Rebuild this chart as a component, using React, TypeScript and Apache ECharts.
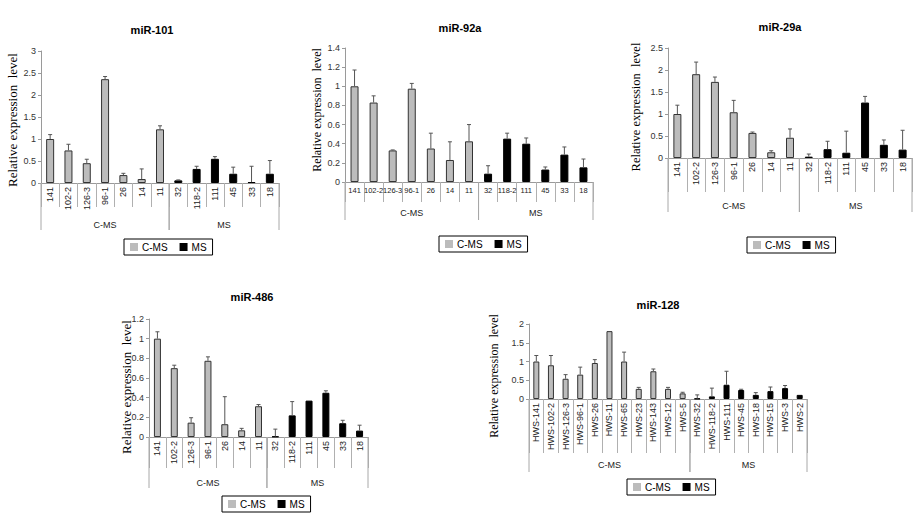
import React, { useEffect, useRef } from 'react';
import * as echarts from 'echarts';

const SANS = '"Liberation Sans", Arial, sans-serif';
const SERIF = '"Liberation Serif", "Times New Roman", serif';

// ---------- data ----------
const groupNames = ['C-MS', 'MS'];

const mir101Cats = ['141', '102-2', '126-3', '96-1', '26', '14', '11', '32', '118-2', '111', '45', '33', '18'];
const mir101CMS = [1.0, 0.74, 0.45, 2.36, 0.18, 0.09, 1.22];
const mir101CMSErr = [0.1, 0.14, 0.09, 0.06, 0.04, 0.23, 0.08];
const mir101MS = [0.06, 0.32, 0.55, 0.21, 0.02, 0.21];
const mir101MSErr = [0.01, 0.06, 0.05, 0.15, 0.36, 0.3];

const mir92aCats = ['141', '102-2', '126-3', '96-1', '26', '14', '11', '32', '118-2', '111', '45', '33', '18'];
const mir92aCMS = [1.0, 0.83, 0.33, 0.975, 0.35, 0.23, 0.425];
const mir92aCMSErr = [0.17, 0.07, 0.005, 0.055, 0.16, 0.19, 0.175];
const mir92aMS = [0.087, 0.453, 0.4, 0.13, 0.286, 0.153];
const mir92aMSErr = [0.083, 0.057, 0.06, 0.027, 0.08, 0.087];

const mir29aCats = ['141', '102-2', '126-3', '96-1', '26', '14', '11', '32', '118-2', '111', '45', '33', '18'];
const mir29aCMS = [1.0, 1.905, 1.73, 1.04, 0.57, 0.13, 0.46];
const mir29aCMSErr = [0.2, 0.275, 0.11, 0.27, 0.02, 0.035, 0.2];
const mir29aMS = [0.03, 0.2, 0.12, 1.26, 0.3, 0.19];
const mir29aMSErr = [0.06, 0.18, 0.49, 0.14, 0.11, 0.44];

const mir486Cats = ['141', '102-2', '126-3', '96-1', '26', '14', '11', '32', '118-2', '111', '45', '33', '18'];
const mir486CMS = [1.0, 0.7, 0.146, 0.775, 0.13, 0.068, 0.313];
const mir486CMSErr = [0.07, 0.03, 0.05, 0.04, 0.28, 0.02, 0.017];
const mir486MS = [0.005, 0.22, 0.37, 0.45, 0.14, 0.065];
const mir486MSErr = [0.075, 0.14, 0.0, 0.02, 0.03, 0.055];

const mir128Cats = ['HWS-141', 'HWS-102-2', 'HWS-126-3', 'HWS-96-1', 'HWS-26', 'HWS-11', 'HWS-65', 'HWS-23', 'HWS-143', 'HWS-12', 'HWS-5',
  'HWS-32', 'HWS-118-2', 'HWS-111', 'HWS-45', 'HWS-18', 'HWS-15', 'HWS-3', 'HWS-2'];
const mir128CMS = [1.0, 0.9, 0.54, 0.65, 0.96, 1.81, 1.0, 0.27, 0.74, 0.27, 0.15];
const mir128CMSErr = [0.16, 0.26, 0.11, 0.2, 0.09, 0.0, 0.25, 0.04, 0.06, 0.04, 0.03];
const mir128MS = [0.01, 0.07, 0.38, 0.24, 0.11, 0.21, 0.29, 0.11];
const mir128MSErr = [0.1, 0.22, 0.36, 0.02, 0.06, 0.11, 0.07, 0.0];

// ---------- panel layout ----------
const panels = [
  { title: 'miR-101', cats: mir101Cats, cms: mir101CMS, cmsErr: mir101CMSErr, ms: mir101MS, msErr: mir101MSErr,
    yMax: 3, yStep: 0.5, left: 41, top: 51, width: 238, height: 132, rotate: 90, labelSize: 9, tickLen: 24, groupLen: 47, groupLabel: 42,
    barW: 8, titleX: 152, titleY: 30, nameX: 12, nameY: 120, nameSize: 13, legendX: 124, legendY: 239 },
  { title: 'miR-92a', cats: mir92aCats, cms: mir92aCMS, cmsErr: mir92aCMSErr, ms: mir92aMS, msErr: mir92aMSErr,
    yMax: 1.4, yStep: 0.2, left: 345, top: 48, width: 248, height: 134, rotate: 0, labelSize: 7.5, tickLen: 20, groupLen: 38, groupLabel: 31,
    barW: 8, titleX: 460, titleY: 28, nameX: 317, nameY: 110, nameSize: 12, legendX: 439, legendY: 236 },
  { title: 'miR-29a', cats: mir29aCats, cms: mir29aCMS, cmsErr: mir29aCMSErr, ms: mir29aMS, msErr: mir29aMSErr,
    yMax: 2.5, yStep: 0.5, left: 668, top: 48, width: 244, height: 110, rotate: 90, labelSize: 9, tickLen: 34, groupLen: 54, groupLabel: 48,
    barW: 8, titleX: 780, titleY: 27, nameX: 636, nameY: 107, nameSize: 12.5, legendX: 747, legendY: 237 },
  { title: 'miR-486', cats: mir486Cats, cms: mir486CMS, cmsErr: mir486CMSErr, ms: mir486MS, msErr: mir486MSErr,
    yMax: 1.2, yStep: 0.2, left: 149, top: 319, width: 219, height: 118, rotate: 90, labelSize: 9, tickLen: 31, groupLen: 51, groupLabel: 46,
    barW: 7, titleX: 252, titleY: 297, nameX: 126, nameY: 387, nameSize: 13, legendX: 222, legendY: 496 },
  { title: 'miR-128', cats: mir128Cats, cms: mir128CMS, cmsErr: mir128CMSErr, ms: mir128MS, msErr: mir128MSErr,
    yMax: 2, yStep: 0.5, left: 529, top: 324, width: 278, height: 75, rotate: 90, labelSize: 9, tickLen: 54, groupLen: 73, groupLabel: 66,
    barW: 6, titleX: 658, titleY: 305, nameX: 494, nameY: 376, nameSize: 12, legendX: 627, legendY: 479 },
];

function buildOption() {
  const grid: any[] = [];
  const xAxis: any[] = [];
  const yAxis: any[] = [];
  const series: any[] = [];
  const legend: any[] = [];
  const graphic: any[] = [];

  panels.forEach((p, i) => {
    const nC = p.cms.length;
    const n = p.cats.length;
    grid.push({ left: p.left, top: p.top, width: p.width, height: p.height, containLabel: false });
    xAxis.push({
      type: 'category', gridIndex: i, data: p.cats, boundaryGap: true,
      axisLine: { show: true, lineStyle: { color: '#9a9a9a', width: 1 } },
      axisTick: { show: true, length: p.tickLen, interval: 0, lineStyle: { color: '#b0b0b0' } },
      axisLabel: { interval: 0, rotate: p.rotate, fontSize: p.labelSize, color: '#222', fontFamily: SANS, margin: 4 },
    });
    yAxis.push({
      type: 'value', gridIndex: i, min: 0, max: p.yMax, interval: p.yStep,
      axisLine: { show: true, lineStyle: { color: '#9a9a9a', width: 1 } },
      axisTick: { show: true, length: 3, lineStyle: { color: '#9a9a9a' } },
      splitLine: { show: false },
      axisLabel: { fontSize: 9, color: '#333', fontFamily: SANS, margin: 5 },
    });
    series.push({
      type: 'bar', name: 'C-MS', xAxisIndex: i, yAxisIndex: i, barWidth: p.barW, barGap: '-100%',
      data: p.cats.map((_, j) => (j < nC ? p.cms[j] : '-')),
      itemStyle: { color: '#bcbcbc', borderColor: '#333', borderWidth: 1 },
    });
    series.push({
      type: 'bar', name: 'MS', xAxisIndex: i, yAxisIndex: i, barWidth: p.barW, barGap: '-100%',
      data: p.cats.map((_, j) => (j >= nC ? p.ms[j - nC] : '-')),
      itemStyle: { color: '#000', borderColor: '#000', borderWidth: 1 },
    });
    const errData = [
      ...p.cms.map((v, j) => [j, v, v + p.cmsErr[j]]),
      ...p.ms.map((v, j) => [j + nC, v, v + p.msErr[j]]),
    ];
    series.push({
      type: 'custom', xAxisIndex: i, yAxisIndex: i, z: 5, clip: false,
      encode: { x: 0, y: 1 },
      data: errData,
      renderItem: (_params: any, api: any) => {
        const x = api.value(0), v = api.value(1), t = api.value(2);
        if (t - v < 0.003) return { type: 'group', children: [] };
        const p0 = api.coord([x, v]);
        const p1 = api.coord([x, t]);
        const st = { stroke: '#555', lineWidth: 1 };
        return {
          type: 'group', children: [
            { type: 'line', shape: { x1: p0[0], y1: p0[1], x2: p1[0], y2: p1[1] }, style: st },
            { type: 'line', shape: { x1: p1[0] - 2, y1: p1[1], x2: p1[0] + 2, y2: p1[1] }, style: st },
          ],
        };
      },
    });
    const grpData = [[0, nC - 1], [nC, n - 1]];
    series.push({
      type: 'custom', xAxisIndex: i, yAxisIndex: i, z: 1, clip: false, silent: true,
      encode: { x: 0, y: -1 } as any,
      data: grpData,
      renderItem: (params: any, api: any) => {
        const s = api.value(0), e = api.value(1);
        const w = api.size([1, 0])[0];
        const a = api.coord([s, 0]);
        const b = api.coord([e, 0]);
        const l = a[0] - w / 2, r = b[0] + w / 2, y0 = a[1];
        const st = { stroke: '#a8a8a8', lineWidth: 1 };
        return {
          type: 'group', children: [
            { type: 'line', shape: { x1: l, y1: y0, x2: l, y2: y0 + p.groupLen }, style: st },
            { type: 'line', shape: { x1: r, y1: y0, x2: r, y2: y0 + p.groupLen }, style: st },
            { type: 'text', x: (l + r) / 2, y: y0 + p.groupLabel,
              style: { text: groupNames[params.dataIndex], textAlign: 'center', textVerticalAlign: 'middle',
                fontSize: 9, fontFamily: SANS, fill: '#222' } },
          ],
        };
      },
    });
    legend.push({
      left: p.legendX, top: p.legendY, orient: 'horizontal', data: ['C-MS', 'MS'], selectedMode: false,
      borderColor: '#000', borderWidth: 1, padding: [3, 6, 3, 6], itemWidth: 8, itemHeight: 8, itemGap: 12,
      icon: 'rect', itemStyle: { borderWidth: 0 },
      textStyle: { fontSize: 10, fontFamily: SANS, color: '#000', padding: [0, 0, 0, -1] },
    });
    graphic.push({
      type: 'text', x: p.titleX, y: p.titleY,
      style: { text: p.title, textAlign: 'center', textVerticalAlign: 'middle', font: `bold 11px ${SANS}`, fill: '#000' },
    });
    graphic.push({
      type: 'text', x: p.nameX, y: p.nameY, rotation: Math.PI / 2,
      style: { text: 'Relative expression  level', textAlign: 'center', textVerticalAlign: 'middle',
        font: `${p.nameSize}px ${SERIF}`, fill: '#000' },
    });
  });

  return { animation: false, backgroundColor: '#fff', grid, xAxis, yAxis, series, legend, graphic };
}

export default function App() {
  const ref = useRef<HTMLDivElement>(null);
  useEffect(() => {
    if (!ref.current) return;
    const chart = echarts.init(ref.current, undefined, { renderer: 'svg' });
    chart.setOption(buildOption() as any);
    return () => chart.dispose();
  }, []);
  return <div ref={ref} style={{ position: 'absolute', left: 0, top: 0, width: 920, height: 518, background: '#fff' }} />;
}
